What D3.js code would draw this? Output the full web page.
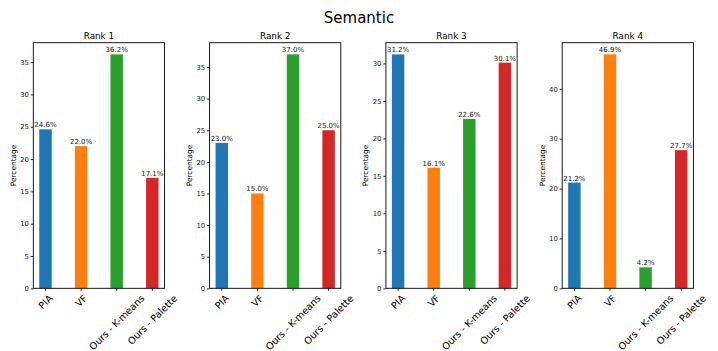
<!DOCTYPE html>
<html>
<head>
<meta charset="utf-8">
<script src="https://cdn.jsdelivr.net/npm/d3@7/dist/d3.min.js"></script>
<style>
  html, body { margin: 0; padding: 0; background: #fff; }
  svg { display: block; font-family: "DejaVu Sans", sans-serif; }
</style>
</head>
<body>
<svg id="chart" width="718" height="351"></svg>
<script>
// Methods compared in every panel
const methods = ["PIA", "VF", "Ours - K-means", "Ours - Palette"];
const colors = ["#1f77b4", "#ff7f0e", "#2ca02c", "#d62728"];

// Share of votes (%) each method received at each rank
const rankTitles = ["Rank 1", "Rank 2", "Rank 3", "Rank 4"];
const rank1 = [24.6, 22.0, 36.2, 17.1];
const rank2 = [23.0, 15.0, 37.0, 25.0];
const rank3 = [31.2, 16.1, 22.6, 30.1];
const rank4 = [21.2, 46.9, 4.2, 27.7];
const rankValues = [rank1, rank2, rank3, rank4];

// Y tick values per panel
const ticks1 = [0, 5, 10, 15, 20, 25, 30, 35];
const ticks2 = [0, 5, 10, 15, 20, 25, 30, 35];
const ticks3 = [0, 5, 10, 15, 20, 25, 30];
const ticks4 = [0, 10, 20, 30, 40];
const rankTicks = [ticks1, ticks2, ticks3, ticks4];

const svg = d3.select("#chart");

svg.append("text")
  .attr("x", 359).attr("y", 23)
  .attr("text-anchor", "middle")
  .attr("font-size", 15)
  .attr("fill", "#000")
  .text("Semantic");

const panelLeft0 = 33.3, panelStep = 176.3, panelW = 131.2;
const panelTop = 42.7, panelBottom = 288.3;
const barWidth = 0.35;
const catFont = 9.6;

rankValues.forEach((vals, p) => {
  const x0 = panelLeft0 + p * panelStep;
  const g = svg.append("g").attr("transform", `translate(${x0},0)`);

  // matplotlib-style autoscale: bars span [-w/2, n-1+w/2] with 5% margins
  const lo = -barWidth / 2, hi = methods.length - 1 + barWidth / 2;
  const pad = (hi - lo) * 0.05;
  const x = d3.scaleLinear().domain([lo - pad, hi + pad]).range([0, panelW]);
  const y = d3.scaleLinear().domain([0, d3.max(vals) * 1.05]).range([panelBottom, panelTop]);

  // bars
  g.selectAll("rect.bar").data(vals).join("rect")
    .attr("class", "bar")
    .attr("x", (d, i) => x(i - barWidth / 2))
    .attr("width", (d, i) => x(i + barWidth / 2) - x(i - barWidth / 2))
    .attr("y", d => y(d))
    .attr("height", d => y(0) - y(d))
    .attr("fill", (d, i) => colors[i]);

  // value labels
  g.selectAll("text.val").data(vals).join("text")
    .attr("class", "val")
    .attr("x", (d, i) => x(i))
    .attr("y", d => y(d) - 2)
    .attr("text-anchor", "middle")
    .attr("font-size", 7)
    .attr("fill", "#222")
    .text(d => d.toFixed(1) + "%");

  // y axis
  const yAxis = d3.axisLeft(y).tickValues(rankTicks[p]).tickSize(2.6).tickPadding(1.8)
    .tickFormat(d3.format("d"));
  const ya = g.append("g").call(yAxis);
  ya.select(".domain").remove();
  ya.selectAll(".tick line").attr("stroke", "#000").attr("stroke-width", 0.8);
  ya.selectAll(".tick text").attr("font-size", 6.9).attr("fill", "#222")
    .attr("font-family", "DejaVu Sans, sans-serif");

  // x ticks
  g.selectAll("line.xt").data(methods).join("line")
    .attr("class", "xt")
    .attr("x1", (d, i) => x(i)).attr("x2", (d, i) => x(i))
    .attr("y1", panelBottom).attr("y2", panelBottom + 2.6)
    .attr("stroke", "#000").attr("stroke-width", 0.8);

  // rotated category labels, rotated bbox centred under each tick
  g.selectAll("text.cat").data(methods).join("text")
    .attr("class", "cat")
    .attr("font-size", catFont)
    .attr("fill", "#000")
    .attr("text-anchor", "middle")
    .attr("dominant-baseline", "central")
    .text(d => d)
    .each(function (d, i) {
      const w = this.getComputedTextLength();
      const h = catFont * 1.0;
      const half = (w + h) * Math.SQRT1_2 / 2;
      const cx = x(i), cy = panelBottom + 2.6 + 2.2 + half;
      d3.select(this).attr("transform", `translate(${cx},${cy}) rotate(-45)`);
    });

  // frame
  g.append("rect")
    .attr("x", 0).attr("y", panelTop)
    .attr("width", panelW).attr("height", panelBottom - panelTop)
    .attr("fill", "none").attr("stroke", "#000").attr("stroke-width", 0.9);

  // panel title
  g.append("text")
    .attr("x", panelW / 2).attr("y", 39)
    .attr("text-anchor", "middle")
    .attr("font-size", 8.8)
    .attr("fill", "#000")
    .text(rankTitles[p]);

  // y label
  g.append("text")
    .attr("transform", `translate(-17.5,${(panelTop + panelBottom) / 2}) rotate(-90)`)
    .attr("text-anchor", "middle")
    .attr("font-size", 7.4)
    .attr("fill", "#000")
    .text("Percentage");
});
</script>
</body>
</html>
